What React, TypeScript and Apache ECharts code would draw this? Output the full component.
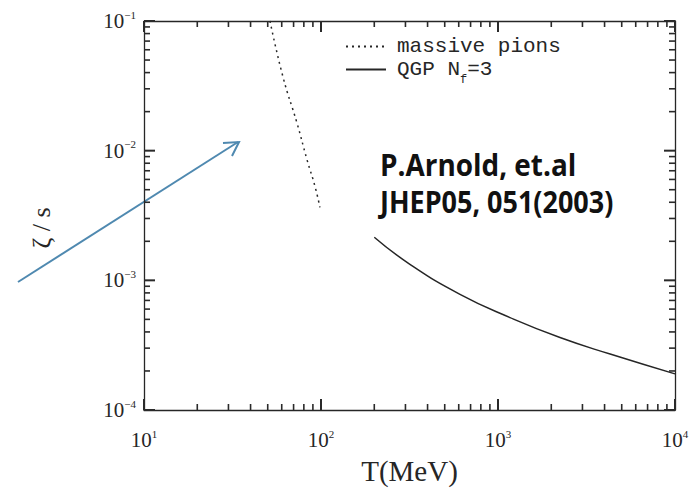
import React, { useEffect, useRef } from "react";
import * as echarts from "echarts";

// massive pions (dotted)
const PION_T = [51.5, 61, 73.1, 83.4, 92.5, 98.6];
const PION_ZETA = [0.1, 0.037, 0.0164, 0.0085, 0.0053, 0.00365];

// QGP Nf=3 (solid)
const QGP_T = [200, 318, 610, 1170, 2240, 4300, 10000];
const QGP_ZETA = [0.00215, 0.00133, 0.00078, 0.000516, 0.000362, 0.00027, 0.00019];

const X_DECADES = [10, 100, 1000];
const Y_DECADES = [0.0001, 0.001, 0.01];
const X_MAJOR = [10, 100, 1000, 10000];
const Y_MAJOR = [0.0001, 0.001, 0.01, 0.1];
const MINOR_MULT = [2, 3, 4, 5, 6, 7, 8, 9];

const SERIF = "'Liberation Serif', 'DejaVu Serif', serif";
const MONO = "'Liberation Mono', 'DejaVu Sans Mono', monospace";
const INK = "#262626";
const TICK = "#2a2a2a";
const ARROW = "#4f89b0";

export default function App() {
  const ref = useRef<HTMLDivElement>(null);
  useEffect(() => {
    if (!ref.current) return;
    const chart = echarts.init(ref.current, null, { renderer: "svg" });

    const fmt = (v: number) => {
      const e = Math.round(Math.log10(v));
      return `{b|10}{e|${e < 0 ? "−" + -e : e}}`;
    };
    const rich = {
      b: { fontFamily: SERIF, fontSize: 21, color: INK, lineHeight: 24 },
      e: { fontFamily: SERIF, fontSize: 11, color: INK, verticalAlign: "top", lineHeight: 14 },
    };

    const axisBase = {
      type: "log" as const,
      logBase: 10,
      axisLine: { show: true, lineStyle: { color: INK, width: 1.3 } },
      axisTick: { show: false },
      splitLine: { show: false },
      minorTick: { show: false },
    };

    chart.setOption({
      animation: false,
      backgroundColor: "#ffffff",
      grid: { left: 144, right: 17, top: 21, bottom: 79, containLabel: false },
      xAxis: [
        {
          ...axisBase,
          min: 10,
          max: 10000,
          position: "bottom",
          axisLabel: { formatter: fmt, rich, margin: 18 },
          name: "T(MeV)",
          nameLocation: "middle",
          nameGap: 46,
          nameTextStyle: { fontFamily: SERIF, fontSize: 29, color: INK },
        },
        { ...axisBase, min: 10, max: 10000, position: "top", axisLabel: { show: false } },
      ],
      yAxis: [
        {
          ...axisBase,
          min: 0.0001,
          max: 0.1,
          position: "left",
          axisLabel: { formatter: fmt, rich, margin: 8 },
        },
        { ...axisBase, min: 0.0001, max: 0.1, position: "right", axisLabel: { show: false } },
      ],
      legend: {
        data: ["massive pions", "QGP N_f=3"],
        orient: "vertical",
        left: 340,
        top: 31,
        itemWidth: 40,
        itemHeight: 14,
        itemGap: 2,
        itemStyle: { opacity: 0 },
        formatter: (name: string) => (name === "QGP N_f=3" ? "QGP N{sub|f}=3" : name),
        textStyle: {
          fontFamily: MONO,
          fontSize: 21,
          color: INK,
          padding: [0, 0, 0, 6],
          rich: {
            sub: {
              fontFamily: MONO,
              fontSize: 12,
              color: INK,
              verticalAlign: "bottom",
              padding: [0, 0, -6, 0],
            },
          },
        },
      },
      series: [
        {
          name: "massive pions",
          type: "line",
          data: PION_T.map((t, i) => [t, PION_ZETA[i]]),
          symbol: "none",
          showSymbol: false,
          smooth: true,
          lineStyle: { color: INK, width: 1.5, type: [2, 4] },
          itemStyle: { color: INK },
        },
        {
          name: "QGP N_f=3",
          type: "line",
          data: QGP_T.map((t, i) => [t, QGP_ZETA[i]]),
          symbol: "none",
          showSymbol: false,
          smooth: true,
          lineStyle: { color: INK, width: 1.5 },
          itemStyle: { color: INK },
        },
      ],
    });

    // Tick marks on all four sides (thin filled rects), placed through the chart's own log scales
    const px = (v: number) => chart.convertToPixel({ xAxisIndex: 0 }, v) as number;
    const py = (v: number) => chart.convertToPixel({ yAxisIndex: 0 }, v) as number;
    const left = px(10);
    const right = px(10000);
    const top = py(0.1);
    const bottom = py(0.0001);
    const tickEls: any[] = [];
    const rect = (x: number, y: number, width: number, height: number) => ({
      type: "rect",
      z: 100,
      shape: { x, y, width, height },
      style: { fill: TICK },
    });
    const xTick = (v: number, len: number, w: number) => {
      const x = px(v);
      tickEls.push(rect(x - w / 2, bottom - len, w, len));
      tickEls.push(rect(x - w / 2, top, w, len));
    };
    const yTick = (v: number, len: number, w: number) => {
      const y = py(v);
      tickEls.push(rect(left, y - w / 2, len, w));
      tickEls.push(rect(right - len, y - w / 2, len, w));
    };
    X_DECADES.forEach((d) => MINOR_MULT.forEach((m) => xTick(d * m, 6, 1.6)));
    X_MAJOR.forEach((v) => xTick(v, 11, 2));
    Y_DECADES.forEach((d) => MINOR_MULT.forEach((m) => yTick(d * m, 6, 1.6)));
    Y_MAJOR.forEach((v) => yTick(v, 11, 2));

    chart.setOption({
      graphic: [
        ...tickEls,
        {
          type: "text",
          x: 41,
          y: 228,
          rotation: Math.PI / 2,
          style: { text: "ζ / s", fontFamily: SERIF, fontSize: 26, fill: INK, align: "center", verticalAlign: "middle" },
        },
        {
          type: "line",
          shape: { x1: 18, y1: 282, x2: 238, y2: 142 },
          style: { stroke: ARROW, lineWidth: 2 },
        },
        {
          type: "polyline",
          shape: { points: [[223, 143], [239, 142], [232, 156]] },
          style: { stroke: ARROW, lineWidth: 2, fill: null },
        },
        {
          type: "text",
          x: 380,
          y: 148,
          scaleX: 0.9,
          style: { text: "P.Arnold, et.al", fontFamily: "'Open Sans', sans-serif", fontWeight: "bold", fontSize: 31, fill: "#111" },
        },
        {
          type: "text",
          x: 380,
          y: 186,
          scaleX: 0.87,
          style: { text: "JHEP05, 051(2003)", fontFamily: "'Open Sans', sans-serif", fontWeight: "bold", fontSize: 31, fill: "#111" },
        },
      ],
    });
    return () => chart.dispose();
  }, []);
  return <div ref={ref} style={{ width: 692, height: 490, position: "absolute", left: 0, top: 0 }} />;
}
